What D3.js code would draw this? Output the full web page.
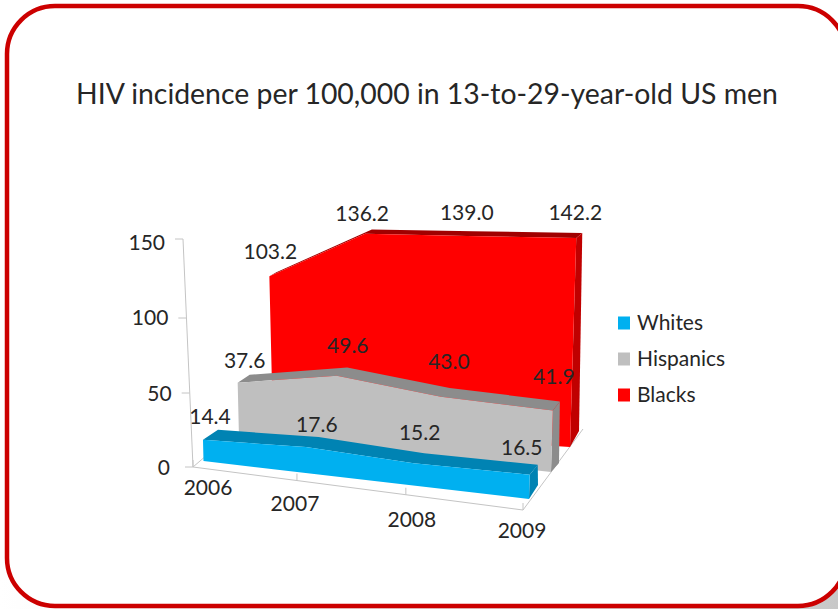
<!DOCTYPE html>
<html>
<head>
<meta charset="utf-8">
<script src="https://cdn.jsdelivr.net/npm/d3@7/dist/d3.min.js"></script>
<style>
html,body{margin:0;padding:0;background:#fff;}
svg{display:block;}
text{font-family:Lato,"Open Sans",sans-serif;fill:#262626;}
</style>
</head>
<body>
<svg id="chart" width="838" height="609"></svg>
<script>
// Chart data
const years = ["2006", "2007", "2008", "2009"];
const whites = [14.4, 17.6, 15.2, 16.5];
const hispanics = [37.6, 49.6, 43.0, 41.9];
const blacks = [103.2, 136.2, 139.0, 142.2];
const valueTicks = [0, 50, 100, 150];
const chartTitle = "HIV incidence per 100,000 in 13-to-29-year-old US men";

// Projection of the 3D scene
const spread = d3.scaleOrdinal().domain(years).range([0, 0.315, 0.645, 1]);
const heightPx = d3.scaleLinear().domain([0, 150]).range([0, 220.5]);
const lean = d3.scaleLinear().domain([0, 1]).range([-0.024, 0.03]);

// Ribbons, back to front: floor line of the front face and depth offsets
const ribbons = [
  {name: "Blacks", values: blacks, front: "#ff0000", top: "#a00000", side: "#c00000",
   x: [273, 570], y: [428, 447], topOff: [[7, -4], [6, -5]], floorOff: [9, -16]},
  {name: "Hispanics", values: hispanics, front: "#bfbfbf", top: "#8c8c8c", side: "#8c8c8c",
   x: [239, 551], y: [438, 472], topOff: [[12, -8], [7, -9]], floorOff: [8, -9]},
  {name: "Whites", values: whites, front: "#00b0f0", top: "#0083b3", side: "#0083b3",
   x: [203.5, 529], y: [461, 499], topOff: [[15, -10], [8, -10]], floorOff: [9, -14]}
];

const labelOffsets = {
  Blacks: [[1, -24], [-3, -20], [0, -23], [-1, -25]],
  Hispanics: [[7, -22], [11, -30], [8, -35], [1, -33]],
  Whites: [[7, -23], [11, -22], [6, -30], [-8, -27]]
};

const svg = d3.select("#chart");

// Soft shadow under the lower edge of the frame
const shade = svg.append("defs").append("linearGradient").attr("id", "edgeShade");
shade.append("stop").attr("offset", "0%").attr("stop-color", "#ffffff");
shade.append("stop").attr("offset", "50%").attr("stop-color", "#e8e8e8");
shade.append("stop").attr("offset", "100%").attr("stop-color", "#c8c8c8");
svg.append("rect").attr("x", 0).attr("y", 560).attr("width", 838).attr("height", 49)
  .attr("fill", "url(#edgeShade)");

// Outer rounded frame
svg.append("rect")
  .attr("x", 7).attr("y", 6).attr("width", 839).attr("height", 600)
  .attr("rx", 48).attr("ry", 48)
  .attr("fill", "#fff").attr("stroke", "#cc0000").attr("stroke-width", 4.5);

svg.append("text")
  .attr("x", 427).attr("y", 104)
  .attr("text-anchor", "middle")
  .attr("font-size", 28.4)
  .text(chartTitle);

// Value axis, leaning slightly and foreshortened with the perspective
const axisColor = "#c4c4c4";
const labelSize = 21;
const yScale = d3.scaleLinear().domain(valueTicks).range([467, 393, 318, 239]);
const axisX = d3.scaleLinear().domain([0, 150]).range([193, 183]);
const tickLabelShift = d3.scaleOrdinal().domain(valueTicks).range([1, 1, 0, 4]);

const yAxis = svg.append("g")
  .call(d3.axisLeft(yScale).tickValues(valueTicks).tickSize(8).tickPadding(10));
yAxis.select(".domain").remove();
yAxis.selectAll(".tick")
  .attr("transform", d => `translate(${axisX(d)},${yScale(d)})`);
yAxis.selectAll(".tick line").attr("stroke", axisColor);
yAxis.selectAll(".tick text")
  .attr("font-size", labelSize)
  .attr("x", d => d === 0 ? -23 : -18)
  .attr("y", d => tickLabelShift(d));
svg.append("line")
  .attr("x1", axisX(0)).attr("y1", yScale(0))
  .attr("x2", axisX(150)).attr("y2", yScale(150))
  .attr("stroke", axisColor);

// Floor outline and category axis
const floorX = d3.scaleLinear().domain([0, 1]).range([193, 523]);
const floorY = d3.scaleLinear().domain([0, 1]).range([467, 510]);
const backRight = [583, 429];

svg.append("path")
  .attr("d", d3.line()([
    [floorX(0) + 14, floorY(0) - 12],
    [floorX(0), floorY(0)],
    [floorX(1), floorY(1)],
    backRight
  ]))
  .attr("fill", "none").attr("stroke", axisColor);

const xLabelOffsets = [[15, 21], [-2, 23.5], [6, 25], [-1, 21]];
const xAxis = svg.append("g")
  .call(d3.axisBottom(floorX).tickValues(years.map(y => spread(y))).tickSize(0).tickFormat((d, i) => years[i]));
xAxis.select(".domain").remove();
xAxis.selectAll(".tick").attr("transform", d => `translate(${floorX(d)},${floorY(d)})`);
xAxis.selectAll(".tick line")
  .attr("y1", 0).attr("y2", -7).attr("stroke", axisColor);
xAxis.selectAll(".tick text")
  .attr("font-size", labelSize)
  .attr("dy", 0)
  .attr("x", (d, i) => xLabelOffsets[i][0])
  .attr("y", (d, i) => xLabelOffsets[i][1] + 7);

// Ribbons
const polygon = d3.line().curve(d3.curveLinearClosed);

ribbons.forEach(r => {
  const fx = d3.scaleLinear().domain([0, 1]).range(r.x);
  const fy = d3.scaleLinear().domain([0, 1]).range(r.y);
  const offX = d3.scaleLinear().domain([0, 1]).range([r.topOff[0][0], r.topOff[1][0]]);
  const offY = d3.scaleLinear().domain([0, 1]).range([r.topOff[0][1], r.topOff[1][1]]);

  const tops = years.map((y, i) => {
    const u = spread(y);
    const h = heightPx(r.values[i]);
    return [fx(u) + lean(u) * h, fy(u) - h];
  });
  const backs = years.map((y, i) => {
    const u = spread(y);
    return [tops[i][0] + offX(u), tops[i][1] + offY(u)];
  });
  const fl = [fx(0), fy(0)];
  const fr = [fx(1), fy(1)];
  const br = [fr[0] + r.floorOff[0], fr[1] + r.floorOff[1]];

  const g = svg.append("g").attr("class", "ribbon");

  // upper surface
  g.append("path")
    .attr("d", polygon([...tops, ...backs.slice().reverse()]))
    .attr("fill", r.top);
  // end face
  g.append("path")
    .attr("d", polygon([tops[3], backs[3], br, fr]))
    .attr("fill", r.side);
  // front face
  g.append("path")
    .attr("d", polygon([fl, ...tops, fr]))
    .attr("fill", r.front);

  // value labels
  g.selectAll("text").data(r.values).join("text")
    .attr("x", (d, i) => tops[i][0] + labelOffsets[r.name][i][0])
    .attr("y", (d, i) => tops[i][1] + labelOffsets[r.name][i][1] + 7)
    .attr("text-anchor", "middle")
    .attr("font-size", labelSize)
    .text(d => d.toFixed(1));
});

// Legend
const legendY = d3.scalePoint().domain(["Whites", "Hispanics", "Blacks"]).range([323, 395]);
const legendColor = d3.scaleOrdinal().domain(["Whites", "Hispanics", "Blacks"]).range(["#00b0f0", "#bfbfbf", "#ff0000"]);
const legend = svg.append("g").selectAll("g").data(legendY.domain()).join("g")
  .attr("transform", d => `translate(618,${legendY(d)})`);
legend.append("rect")
  .attr("x", 0).attr("y", -6.5).attr("width", 12).attr("height", 13)
  .attr("fill", d => legendColor(d));
legend.append("text")
  .attr("x", 19).attr("y", 7)
  .attr("font-size", labelSize)
  .text(d => d);
</script>
</body>
</html>
